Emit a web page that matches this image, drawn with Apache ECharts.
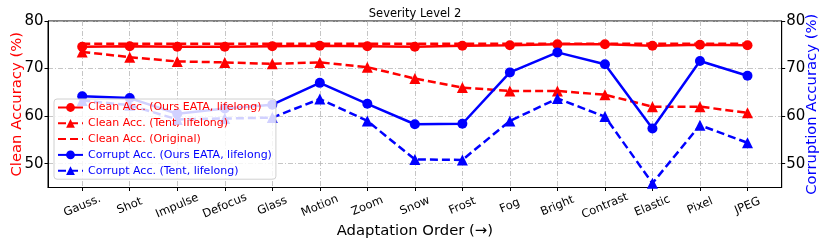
<!DOCTYPE html>
<html><head><meta charset="utf-8">
<script src="https://cdn.jsdelivr.net/npm/echarts@6/dist/echarts.min.js"></script>
<style>html,body{margin:0;padding:0;background:#fff}#c{width:830px;height:248px}</style>
</head><body><div id="c"></div>
<script>
const categories = ['Gauss.','Shot','Impulse','Defocus','Glass','Motion','Zoom','Snow','Frost','Fog','Bright','Contrast','Elastic','Pixel','JPEG'];
const cleanEATA  = [74.6,74.7,74.6,74.6,74.7,74.8,74.7,74.6,74.8,74.9,75.1,75.1,74.8,75.0,74.9];
const cleanTent  = [73.5,72.4,71.5,71.3,71.0,71.3,70.3,67.9,66.0,65.3,65.3,64.5,62.0,62.0,60.7];
const cleanOrig  = [75.2,75.2,75.2,75.2,75.2,75.2,75.2,75.2,75.2,75.2,75.2,75.2,75.2,75.2,75.2];
const corrEATA   = [64.2,63.8,60.5,61.6,62.4,67.0,62.6,58.3,58.4,69.2,73.4,70.9,57.4,71.6,68.5];
const corrTent   = [63.3,62.3,59.3,59.5,59.7,63.6,59.0,50.9,50.8,59.0,63.7,59.9,45.9,58.1,54.4];
const yTicks = [50,60,70,80];
const xTicks = categories.map((_, i) => i);

const RED = '#ff0000', BLUE = '#0000ff';
const FONT = 'DejaVu Sans';
const pts = arr => arr.map((v, i) => [i, v]);
const grid = { lineStyle: { color: '#b8b8b8', width: 0.8, type: [5, 2, 1, 2] } };

const chart = echarts.init(document.getElementById('c'), null, { renderer: 'canvas' });
const yAxisBase = {
  type: 'value', min: 45, max: 80,
  axisLine: { show: true, onZero: false, lineStyle: { color: '#000', width: 1 } },
  axisTick: { show: true, customValues: yTicks, length: 3.5, lineStyle: { color: '#000' } },
  axisLabel: { customValues: yTicks, color: '#000', fontSize: 15, fontFamily: FONT, margin: 4.5 },
  nameLocation: 'middle', nameRotate: 90, nameMoveOverlap: false,
  nameTextStyle: { fontSize: 14.8, fontFamily: FONT }
};
chart.setOption({
  animation: false,
  backgroundColor: '#fff',
  title: { text: 'Severity Level 2', left: 'center', top: 3,
    textStyle: { fontSize: 11.5, fontWeight: 'normal', color: '#000', fontFamily: FONT } },
  grid: { left: 48, right: 48.3, top: 21, bottom: 60.5, outerBoundsMode: 'none', containLabel: false,
    show: true, borderColor: '#000', borderWidth: 1 },
  xAxis: {
    type: 'value', min: -0.72, max: 14.72,
    name: 'Adaptation Order (→)', nameLocation: 'middle', nameGap: 36, nameMoveOverlap: false,
    nameTextStyle: { fontSize: 14.8, color: '#000', fontFamily: FONT },
    axisLine: { show: true, onZero: false, lineStyle: { color: '#000' } },
    axisTick: { show: true, customValues: xTicks, length: 3.5, lineStyle: { color: '#000' } },
    axisLabel: { customValues: xTicks, rotate: 23, align: 'center', verticalAlign: 'middle', hideOverlap: false,
      color: '#000', fontSize: 11.5, fontFamily: FONT,
      margin: 18.5, formatter: v => categories[Math.round(v)] || '' },
    splitLine: { show: true, ...grid }
  },
  yAxis: [
    { ...yAxisBase, position: 'left', name: 'Clean Accuracy (%)', nameGap: 23,
      nameTextStyle: { ...yAxisBase.nameTextStyle, color: RED },
      splitLine: { show: true, ...grid } },
    { ...yAxisBase, position: 'right', name: 'Corruption Accuracy (%)', nameGap: 23,
      nameTextStyle: { ...yAxisBase.nameTextStyle, color: BLUE }, splitLine: { show: false } }
  ],
  legend: {
    orient: 'vertical', left: 54, top: 99, padding: [3, 4, 3, 3],
    itemWidth: 25, itemHeight: 11, itemGap: 4.8,
    backgroundColor: 'rgba(255,255,255,0.82)', borderColor: '#d0d0d0', borderWidth: 1, borderRadius: 3,
    textStyle: { fontSize: 11, fontFamily: FONT },
    data: [
      { name: 'Clean Acc. (Ours EATA, lifelong)', textStyle: { color: RED } },
      { name: 'Clean Acc. (Tent, lifelong)', textStyle: { color: RED } },
      { name: 'Clean Acc. (Original)', textStyle: { color: RED }, itemStyle: { opacity: 0 } },
      { name: 'Corrupt Acc. (Ours EATA, lifelong)', textStyle: { color: BLUE } },
      { name: 'Corrupt Acc. (Tent, lifelong)', textStyle: { color: BLUE } }
    ]
  },
  series: [
    { name: 'Clean Acc. (Ours EATA, lifelong)', type: 'line', data: pts(cleanEATA), symbol: 'circle', symbolSize: 10,
      itemStyle: { color: RED }, lineStyle: { color: RED, width: 2.5 }, z: 3 },
    { name: 'Clean Acc. (Tent, lifelong)', type: 'line', data: pts(cleanTent), symbol: 'triangle', symbolSize: 11,
      itemStyle: { color: RED }, lineStyle: { color: RED, width: 2.5, type: [8, 4] } },
    { name: 'Clean Acc. (Original)', type: 'line', data: pts(cleanOrig), symbol: 'none',
      itemStyle: { color: RED }, lineStyle: { color: RED, width: 2.5, type: [8, 4] } },
    { name: 'Corrupt Acc. (Ours EATA, lifelong)', type: 'line', yAxisIndex: 1, data: pts(corrEATA), symbol: 'circle', symbolSize: 10,
      itemStyle: { color: BLUE }, lineStyle: { color: BLUE, width: 2.5 } },
    { name: 'Corrupt Acc. (Tent, lifelong)', type: 'line', yAxisIndex: 1, data: pts(corrTent), symbol: 'triangle', symbolSize: 11,
      itemStyle: { color: BLUE }, lineStyle: { color: BLUE, width: 2.5, type: [8, 4] } }
  ]
});
</script></body></html>
